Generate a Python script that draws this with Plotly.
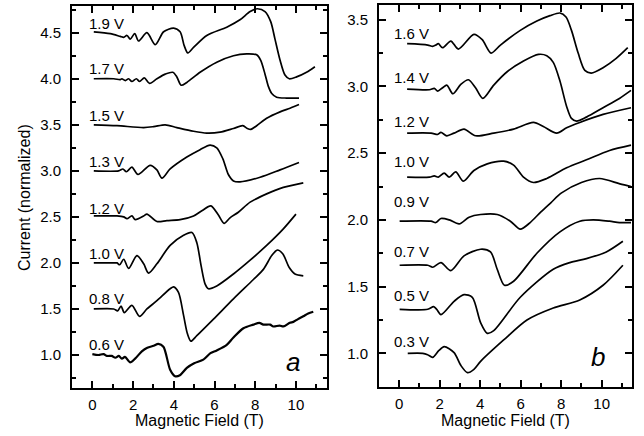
import plotly.graph_objects as go

# ---------------- Panel a data ----------------
a_labels = ["1.9 V", "1.7 V", "1.5 V", "1.3 V", "1.2 V", "1.0 V", "0.8 V", "0.6 V"]
a19_x = [0.07,0.88,1.37,1.54,1.70,1.86,2.08,2.27,2.68,3.09,3.50,3.99,4.31,4.51,4.69,4.97,5.62,6.60,7.25,7.75,8.10,8.48,8.76,8.97,9.22,9.46,9.67,10.03,10.52,10.93]
a19_y = [4.51,4.49,4.46,4.45,4.47,4.43,4.49,4.41,4.50,4.37,4.51,4.55,4.51,4.36,4.28,4.34,4.47,4.56,4.64,4.73,4.76,4.73,4.62,4.43,4.20,4.04,4.00,4.02,4.07,4.13]
a17_x = [0.07,1.05,1.37,1.45,1.62,1.78,1.94,2.16,2.32,2.55,2.81,3.17,3.58,3.95,4.15,4.36,4.64,5.29,6.11,6.93,7.58,8.07,8.27,8.48,8.64,8.81,9.05,9.54,10.15]
a17_y = [4.00,4.00,3.99,4.00,3.98,4.00,3.97,4.00,3.97,4.01,3.95,4.00,4.05,4.07,4.02,3.93,3.96,4.07,4.18,4.25,4.27,4.26,4.20,4.05,3.92,3.84,3.80,3.79,3.79]
a15_x = [0.07,1.21,2.52,3.01,3.58,4.15,4.97,5.62,6.27,6.93,7.39,7.61,7.78,8.07,8.56,9.22,9.71,10.15]
a15_y = [3.50,3.49,3.47,3.48,3.50,3.47,3.43,3.41,3.42,3.46,3.49,3.46,3.45,3.49,3.57,3.64,3.68,3.72]
a13_x = [0.07,1.29,1.50,1.67,1.94,2.24,2.84,3.17,3.42,3.82,4.64,5.29,5.78,6.11,6.41,6.68,6.93,7.25,8.24,9.22,10.15]
a13_y = [3.00,3.00,3.02,2.99,3.04,2.96,3.06,3.01,2.92,3.02,3.15,3.23,3.28,3.25,3.13,2.96,2.89,2.88,2.93,3.01,3.09]
a12_x = [0.07,1.21,1.54,1.70,1.94,2.11,2.52,2.68,3.17,3.66,4.31,4.97,5.40,5.82,6.19,6.47,6.76,7.17,7.75,8.56,9.38,10.36]
a12_y = [2.51,2.51,2.50,2.48,2.51,2.47,2.51,2.53,2.45,2.46,2.47,2.51,2.57,2.62,2.52,2.43,2.49,2.55,2.66,2.75,2.82,2.87]
a10_x = [0.07,1.05,1.21,1.34,1.54,1.78,2.19,2.52,2.76,3.17,3.82,4.48,4.89,5.13,5.34,5.54,5.70,6.11,6.93,7.75,8.56,9.38,10.0]
a10_y = [2.00,2.00,2.00,1.98,2.04,1.94,2.08,1.99,1.89,1.99,2.19,2.30,2.33,2.22,1.97,1.77,1.72,1.75,1.88,2.03,2.19,2.37,2.53]
a08_x = [0.07,1.05,1.24,1.41,1.57,1.94,2.32,2.68,3.17,3.82,3.99,4.23,4.48,4.67,4.84,5.13,5.95,6.93,7.91,8.40,8.81,9.08,9.35,9.67,9.95,10.36]
a08_y = [1.50,1.50,1.48,1.53,1.46,1.54,1.42,1.50,1.59,1.72,1.74,1.68,1.43,1.23,1.15,1.21,1.39,1.61,1.82,1.93,2.08,2.14,2.10,1.95,1.88,1.86]
a06_x = [0.0,0.30,0.55,0.72,0.95,1.13,1.30,1.45,1.60,1.85,2.10,2.43,2.70,3.01,3.24,3.49,3.82,4.06,4.30,4.64,5.00,5.45,5.80,6.11,6.60,6.93,7.42,7.91,8.20,8.40,8.73,8.89,9.20,9.38,9.70,9.87,10.10,10.36,10.60,10.85]
a06_y = [1.01,1.00,1.01,0.99,0.99,0.97,0.99,0.96,0.98,0.92,0.96,1.04,1.08,1.10,1.12,1.09,0.84,0.77,0.78,0.86,0.91,0.95,1.02,1.05,1.11,1.19,1.29,1.33,1.35,1.33,1.33,1.31,1.32,1.31,1.35,1.36,1.39,1.42,1.45,1.47]

# ---------------- Panel b data ----------------
b_labels = ["1.6 V", "1.4 V", "1.2 V", "1.0 V", "0.9 V", "0.7 V", "0.5 V", "0.3 V"]
b16_x = [0.39,1.41,1.65,1.81,1.93,2.14,2.55,2.92,3.69,4.10,4.54,5.00,5.98,6.80,7.45,7.94,8.24,8.51,8.84,9.17,9.49,10.07,10.72,11.29]
b16_y = [3.32,3.31,3.30,3.31,3.32,3.29,3.34,3.28,3.39,3.35,3.25,3.31,3.42,3.49,3.53,3.55,3.52,3.42,3.25,3.12,3.10,3.14,3.21,3.29]
b14_x = [0.39,1.49,1.73,1.90,2.14,2.35,2.65,3.04,3.42,3.77,4.13,4.67,5.33,6.14,6.88,7.29,7.61,7.94,8.27,8.51,8.76,9.25,10.07,10.88,11.45]
b14_y = [2.98,2.975,2.985,2.965,2.99,3.01,2.945,3.015,3.05,2.99,2.91,3.01,3.11,3.19,3.24,3.23,3.18,3.04,2.85,2.76,2.74,2.77,2.84,2.91,2.97]
b12_x = [0.39,1.57,1.90,2.06,2.35,2.71,3.20,3.77,4.67,5.65,6.63,7.12,7.78,8.27,8.92,10.07,11.45]
b12_y = [2.65,2.65,2.64,2.655,2.63,2.65,2.68,2.63,2.65,2.68,2.73,2.70,2.65,2.69,2.73,2.79,2.84]
b10_x = [0.39,1.49,1.73,1.93,2.22,2.47,2.79,3.17,3.69,4.35,5.16,5.65,6.14,6.63,7.29,8.27,9.25,10.39,11.45]
b10_y = [2.32,2.32,2.33,2.32,2.35,2.32,2.36,2.29,2.37,2.42,2.44,2.41,2.32,2.28,2.31,2.39,2.45,2.52,2.56]
b09_x = [0.02,1.57,1.81,2.06,2.47,2.96,3.45,4.02,4.84,5.49,5.98,6.47,7.00,7.50,8.00,9.00,9.90,10.90,11.45]
b09_y = [1.99,1.99,1.98,2.01,2.00,1.97,2.02,2.04,2.04,1.99,1.93,1.98,2.06,2.13,2.20,2.28,2.31,2.27,2.25]
b07_x = [0.02,1.41,1.65,2.06,2.55,3.20,4.02,4.51,4.84,5.20,5.65,6.80,7.94,8.92,9.58,10.39,10.88,11.45]
b07_y = [1.66,1.66,1.645,1.68,1.62,1.73,1.78,1.76,1.63,1.51,1.54,1.75,1.91,1.99,2.00,1.99,1.98,1.98]
b05_x = [0.02,1.41,1.70,1.85,2.06,2.71,3.20,3.61,4.02,4.35,4.67,5.98,7.61,8.43,9.25,10.23,11.05]
b05_y = [1.33,1.33,1.35,1.33,1.29,1.39,1.44,1.42,1.23,1.15,1.17,1.42,1.63,1.68,1.71,1.76,1.84]
b03_x = [0.42,1.16,1.40,1.65,1.95,2.22,2.71,3.04,3.37,3.69,4.02,5.16,6.31,7.61,8.92,10.07,11.05]
b03_y = [1.00,1.00,0.99,0.97,1.02,1.05,1.005,0.91,0.855,0.88,0.94,1.10,1.25,1.34,1.40,1.51,1.66]

a_series = [(a19_x, a19_y), (a17_x, a17_y), (a15_x, a15_y), (a13_x, a13_y),
            (a12_x, a12_y), (a10_x, a10_y), (a08_x, a08_y), (a06_x, a06_y)]
b_series = [(b16_x, b16_y), (b14_x, b14_y), (b12_x, b12_y), (b10_x, b10_y),
            (b09_x, b09_y), (b07_x, b07_y), (b05_x, b05_y), (b03_x, b03_y)]

# label anchor points (data coordinates)
a_lab_y = [4.60, 4.11, 3.60, 3.10, 2.59, 2.10, 1.61, 1.11]
b_lab_y = [3.395, 3.065, 2.735, 2.435, 2.14, 1.76, 1.43, 1.09]

FONT = "Liberation Sans"

fig = go.Figure()
for i, (xs, ys) in enumerate(a_series):
    fig.add_trace(go.Scatter(x=xs, y=ys, mode="lines", xaxis="x", yaxis="y",
                             line=dict(color="black", width=2.2 if i == 7 else 1.7,
                                       shape="spline", smoothing=0.8),
                             showlegend=False, hoverinfo="skip"))
for xs, ys in b_series:
    fig.add_trace(go.Scatter(x=xs, y=ys, mode="lines", xaxis="x2", yaxis="y2",
                             line=dict(color="black", width=1.7, shape="spline", smoothing=0.8),
                             showlegend=False, hoverinfo="skip"))

def xax(domain, anchor):
    return dict(domain=domain, anchor=anchor, range=[-1.0, 11.5], automargin=False,
                tickvals=[0, 2, 4, 6, 8, 10], ticks="inside", ticklen=7, tickwidth=1.5,
                tickcolor="black", minor=dict(dtick=1, tick0=0, ticks="inside", ticklen=4,
                                              tickwidth=1.5, tickcolor="black"),
                showline=True, linewidth=2, linecolor="black", mirror="ticks",
                showgrid=False, zeroline=False, ticklabelstandoff=2,
                tickfont=dict(family=FONT, size=15, color="black"))

def yax(domain, anchor, rng):
    return dict(domain=domain, anchor=anchor, range=rng, automargin=False,
                tickvals=[1.0, 1.5, 2.0, 2.5, 3.0, 3.5, 4.0, 4.5], tickformat=".1f",
                ticks="inside", ticklen=7, tickwidth=1.5, tickcolor="black",
                minor=dict(dtick=0.25, tick0=0, ticks="inside", ticklen=4,
                           tickwidth=1.5, tickcolor="black"),
                showline=True, linewidth=2, linecolor="black", mirror="ticks",
                showgrid=False, zeroline=False, ticklabelstandoff=6,
                tickfont=dict(family=FONT, size=15, color="black"))

annotations = []
for lab, ly in zip(a_labels, a_lab_y):
    annotations.append(dict(x=-0.28, y=ly, xref="x", yref="y", text=lab, showarrow=False,
                            xanchor="left", yanchor="middle",
                            font=dict(family=FONT, size=15, color="black")))
for lab, ly in zip(b_labels, b_lab_y):
    annotations.append(dict(x=-0.38, y=ly, xref="x2", yref="y2", text=lab, showarrow=False,
                            xanchor="left", yanchor="middle",
                            font=dict(family=FONT, size=15, color="black")))
annotations += [
    dict(x=9.86, y=0.92, xref="x", yref="y", text="<i>a</i>", showarrow=False,
         xanchor="center", yanchor="middle", font=dict(family=FONT, size=26, color="black")),
    dict(x=9.84, y=0.97, xref="x2", yref="y2", text="<i>b</i>", showarrow=False,
         xanchor="center", yanchor="middle", font=dict(family=FONT, size=26, color="black")),
    dict(x=199/644, y=1-420/436, xref="paper", yref="paper", text="Magnetic Field (T)",
         showarrow=False, xanchor="center", yanchor="middle",
         font=dict(family=FONT, size=16, color="black")),
    dict(x=505.5/644, y=1-420/436, xref="paper", yref="paper", text="Magnetic Field (T)",
         showarrow=False, xanchor="center", yanchor="middle",
         font=dict(family=FONT, size=16, color="black")),
    dict(x=24/644, y=1-198/436, xref="paper", yref="paper", text="Current (normalized)",
         showarrow=False, xanchor="center", yanchor="middle", textangle=-90,
         font=dict(family=FONT, size=16, color="black")),
]

fig.update_layout(
    width=644, height=436, margin=dict(l=0, r=0, t=0, b=0, autoexpand=False),
    paper_bgcolor="white", plot_bgcolor="white",
    font=dict(family=FONT, color="black"),
    xaxis=xax([72/644, 326.5/644], "y"),
    yaxis=yax([1-387.7/436, 1-6/436], "x", [0.645, 4.79]),
    xaxis2=xax([379/644, 632/644], "y2"),
    yaxis2=yax([1-386.7/436, 1-5/436], "x2", [0.75, 3.61]),
    annotations=annotations,
)

fig.write_html("out.html", config={"displayModeBar": False},
               post_script="document.body.style.margin='0';")
